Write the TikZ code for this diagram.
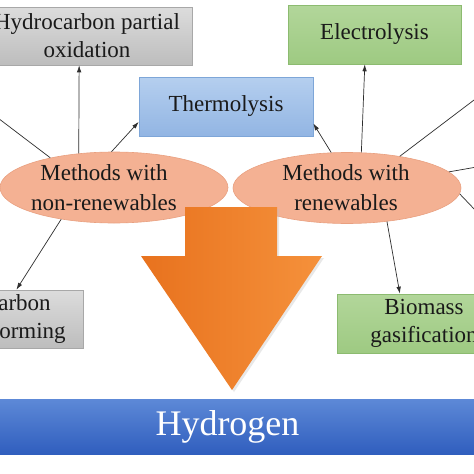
\documentclass[tikz,border=0pt]{standalone}
\usepackage{fontspec}
\setmainfont{Liberation Serif}
\usetikzlibrary{shapes.geometric,arrows.meta}
\definecolor{txt}{HTML}{1A1A1A}
\definecolor{grayA}{HTML}{DCDCDC}
\definecolor{grayB}{HTML}{BDBDBD}
\definecolor{grayL}{HTML}{A8A8A8}
\definecolor{blueA}{HTML}{B5CFEF}
\definecolor{blueB}{HTML}{92B5E3}
\definecolor{blueL}{HTML}{7EA6D8}
\definecolor{greenA}{HTML}{B2D69A}
\definecolor{greenB}{HTML}{9ECA82}
\definecolor{greenL}{HTML}{8CBB70}
\definecolor{ellF}{HTML}{F4B193}
\definecolor{ellL}{HTML}{E9A080}
\definecolor{orA}{HTML}{E8721E}
\definecolor{orB}{HTML}{F5913B}
\definecolor{hyA}{HTML}{5D89D7}
\definecolor{hyB}{HTML}{305EBE}
\definecolor{lineC}{HTML}{2E2E2E}
\begin{document}
\begin{tikzpicture}[x=1pt,y=-1pt,
  box/.style={rectangle, line width=0.6pt, text=txt, font=\fontsize{23}{28}\selectfont, align=center, inner sep=0pt},
  graybox/.style={box, draw=grayL, top color=grayA, bottom color=grayB},
  bluebox/.style={box, draw=blueL, top color=blueA, bottom color=blueB},
  greenbox/.style={box, draw=greenL, top color=greenA, bottom color=greenB},
  meth/.style={ellipse, draw=ellL, fill=ellF, line width=0.6pt, inner sep=0pt, minimum width=228pt, minimum height=71pt},
  methtext/.style={text=txt, font=\fontsize{23}{30}\selectfont, align=center, inner sep=0pt},
  conn/.style={draw=lineC, line width=0.7pt, -{Latex[length=7pt,width=4.5pt]}}
]
\useasboundingbox (0,0) rectangle (474,474);
\clip (0,0) rectangle (474,474);
\fill[white] (0,0) rectangle (474,474);

% boxes
\node[graybox, minimum width=210pt, minimum height=58pt] (hcpo) at (87,36) {Hydrocarbon partial\\oxidation};
\node[bluebox, minimum width=174pt, minimum height=59pt] (thermo) at (226,106.5) {Thermolysis};
\node[greenbox, minimum width=173pt, minimum height=59pt] (electro) at (374.5,34.5) {Electrolysis};
\node[graybox, minimum width=186pt, minimum height=58pt] (hcref) at (-10,319) {Hydrocarbon\\steam reforming};
\node[greenbox, minimum width=174pt, minimum height=59pt] (bio) at (424,323.5) {Biomass\\gasification};

% ellipses
\node[meth] (lnr) at (114,187.5) {};
\node[methtext] (lnrt) at (104,188) {Methods with\\non-renewables};
\node[meth] (rr) at (347,188) {};
\node[methtext] (rrt) at (346,188) {Methods with\\renewables};

% off-picture ends
\coordinate (offUL) at (-60,74);
\coordinate (offR1) at (540,50);
\coordinate (offR2) at (540,156);
\coordinate (offR3) at (540,278);

% connectors
\draw[conn] (lnr.136) -- (hcpo.-105);
\draw[conn] (lnr.94) -- (thermo.190);
\draw[conn] (lnr.-149) -- (hcref.48);
\draw[conn] (lnr.155) -- (offUL);
\draw[conn] (rr.114) -- (thermo.-11);
\draw[conn] (rr.68) -- (electro.-108);
\draw[conn] (rr.-40) -- (bio.129);
\draw[conn] (rr.31) -- (offR1);
\draw[conn] (rr.9) -- (offR2);
\draw[conn] (rr.-3) -- (offR3);

% big arrow
\fill[black!25, opacity=0.35] (187,209) -- (279,209) -- (279,258) -- (324,258) -- (234,392) -- (143,258) -- (187,258) -- cycle;
\shade[left color=orA, right color=orB] (185,207) -- (277,207) -- (277,256) -- (322,256) -- (232,390) -- (141,256) -- (185,256) -- cycle;

% hydrogen bar
\shade[top color=hyA, bottom color=hyB] (-2,399) rectangle (476,454);
\node[text=white, font=\fontsize{36}{40}\selectfont, inner sep=0pt] (hyd) at (227.5,427) {Hydrogen};
\end{tikzpicture}
\end{document}
